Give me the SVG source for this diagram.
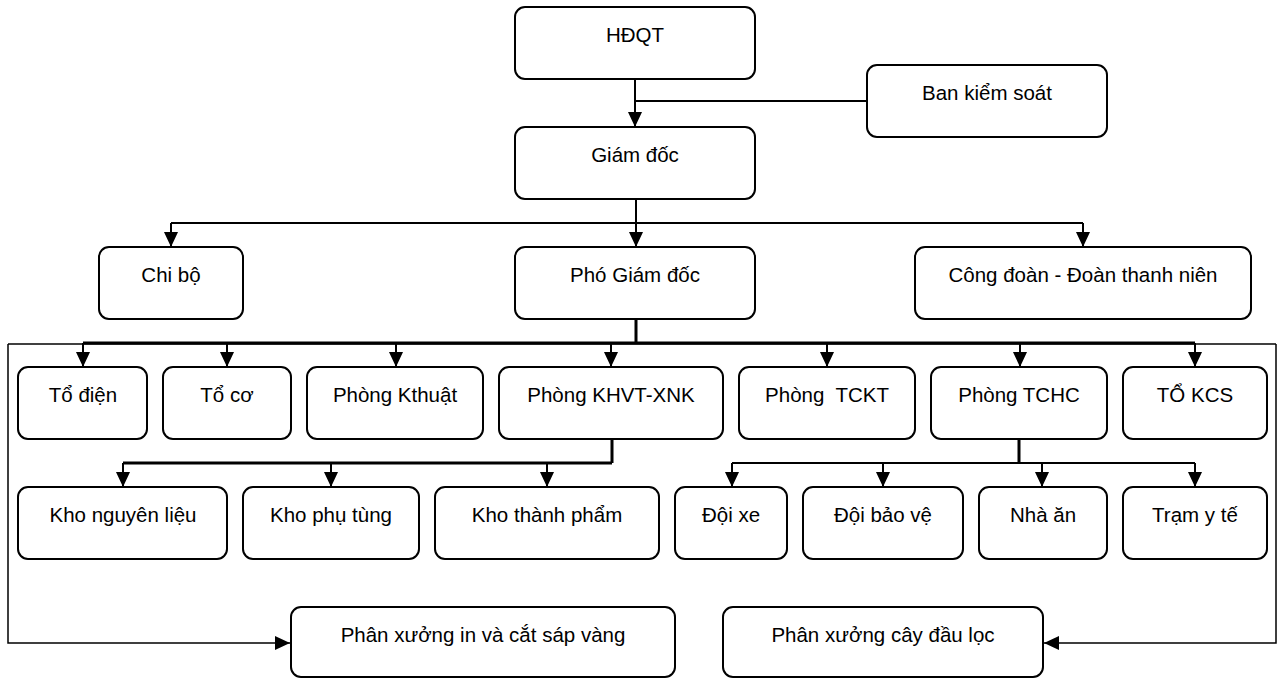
<svg xmlns="http://www.w3.org/2000/svg" width="1278" height="679" viewBox="0 0 1278 679">
<style>
.box{fill:#fff;stroke:#000;stroke-width:2}
.t{font-family:"Liberation Sans",Arial,sans-serif;font-size:20.5px;fill:#000;text-anchor:middle;white-space:pre}
.c{fill:none;stroke:#000;stroke-width:2}
.b{fill:none;stroke:#000;stroke-width:3}
.f{fill:none;stroke:#000;stroke-width:1.5}
.a{marker-end:url(#ah)}
</style>
<defs>
<marker id="ah" viewBox="0 0 15 14" refX="15" refY="7" markerWidth="15" markerHeight="14" orient="auto" markerUnits="userSpaceOnUse">
<path d="M0,0 L15,7 L0,14 z" fill="#000"/>
</marker>
</defs>
<rect width="1278" height="679" fill="#fff"/>
<g id="connectors">
<path class="c a" d="M635,79 V127"/>
<path class="c" d="M635,101 H867"/>
<path class="c" d="M636,199 V223 M171,223 H1083"/>
<path class="c a" d="M171,223 V247"/>
<path class="c a" d="M636,223 V247"/>
<path class="c a" d="M1083,223 V247"/>
<path class="f" d="M8,344 H1276"/>
<path class="f a" d="M8,344 V643 H290"/>
<path class="f a" d="M1276,344 V643 H1044"/>
<path class="b" d="M636,319 V343 M83,343 H1195"/>
<path class="c a" d="M83,343 V367"/>
<path class="c a" d="M227,343 V367"/>
<path class="c a" d="M396,343 V367"/>
<path class="c a" d="M611,343 V367"/>
<path class="c a" d="M827,343 V367"/>
<path class="c a" d="M1020,343 V367"/>
<path class="c a" d="M1195,343 V367"/>
<path class="b" d="M612,439 V463 M123,463 H612"/>
<path class="c a" d="M123,463 V487"/>
<path class="c a" d="M331,463 V487"/>
<path class="c a" d="M547,463 V487"/>
<path class="b" d="M1019,439 V463"/>
<path class="c" d="M732,463 H1195"/>
<path class="c a" d="M732,463 V487"/>
<path class="c a" d="M883,463 V487"/>
<path class="c a" d="M1042,463 V487"/>
<path class="c a" d="M1195,463 V487"/>
</g>
<g id="hdqt"><rect class="box" x="515" y="7" width="240" height="72" rx="10"/><text class="t" x="635" y="42">HĐQT</text></g>
<g id="giamdoc"><rect class="box" x="515" y="127" width="240" height="72" rx="10"/><text class="t" x="635" y="162">Giám đốc</text></g>
<g id="bankiemsoat"><rect class="box" x="867" y="65" width="240" height="72" rx="10"/><text class="t" x="987" y="100">Ban kiểm soát</text></g>
<g id="chibo"><rect class="box" x="99" y="247" width="144" height="72" rx="10"/><text class="t" x="171" y="282">Chi bộ</text></g>
<g id="phogiamdoc"><rect class="box" x="515" y="247" width="240" height="72" rx="10"/><text class="t" x="635" y="282">Phó Giám đốc</text></g>
<g id="congdoan"><rect class="box" x="915" y="247" width="336" height="72" rx="10"/><text class="t" x="1083" y="282">Công đoàn - Đoàn thanh niên</text></g>
<g id="todien"><rect class="box" x="18" y="367" width="129" height="72" rx="10"/><text class="t" x="83" y="402">Tổ điện</text></g>
<g id="toco"><rect class="box" x="163" y="367" width="128" height="72" rx="10"/><text class="t" x="227" y="402">Tổ cơ</text></g>
<g id="phongkthuat"><rect class="box" x="307" y="367" width="176" height="72" rx="10"/><text class="t" x="395" y="402">Phòng Kthuật</text></g>
<g id="phongkhvt"><rect class="box" x="499" y="367" width="224" height="72" rx="10"/><text class="t" x="611" y="402">Phòng KHVT-XNK</text></g>
<g id="phongtckt"><rect class="box" x="739" y="367" width="176" height="72" rx="10"/><text class="t" x="827" y="402">Phòng  TCKT</text></g>
<g id="phongtchc"><rect class="box" x="931" y="367" width="176" height="72" rx="10"/><text class="t" x="1019" y="402">Phòng TCHC</text></g>
<g id="tokcs"><rect class="box" x="1123" y="367" width="144" height="72" rx="10"/><text class="t" x="1195" y="402">TỔ KCS</text></g>
<g id="khonguyenlieu"><rect class="box" x="18" y="487" width="209" height="72" rx="10"/><text class="t" x="123" y="522">Kho nguyên liệu</text></g>
<g id="khophutung"><rect class="box" x="243" y="487" width="176" height="72" rx="10"/><text class="t" x="331" y="522">Kho phụ tùng</text></g>
<g id="khothanhpham"><rect class="box" x="435" y="487" width="224" height="72" rx="10"/><text class="t" x="547" y="522">Kho thành phẩm</text></g>
<g id="doixe"><rect class="box" x="675" y="487" width="112" height="72" rx="10"/><text class="t" x="731" y="522">Đội xe</text></g>
<g id="doibaove"><rect class="box" x="803" y="487" width="160" height="72" rx="10"/><text class="t" x="883" y="522">Đội bảo vệ</text></g>
<g id="nhaan"><rect class="box" x="979" y="487" width="128" height="72" rx="10"/><text class="t" x="1043" y="522">Nhà ăn</text></g>
<g id="tramyte"><rect class="box" x="1123" y="487" width="144" height="72" rx="10"/><text class="t" x="1195" y="522">Trạm y tế</text></g>
<g id="pxin"><rect class="box" x="291" y="607" width="384" height="70" rx="10"/><text class="t" x="483" y="642">Phân xưởng in và cắt sáp vàng</text></g>
<g id="pxcay"><rect class="box" x="723" y="607" width="320" height="70" rx="10"/><text class="t" x="883" y="642">Phân xưởng cây đầu lọc</text></g>
</svg>
